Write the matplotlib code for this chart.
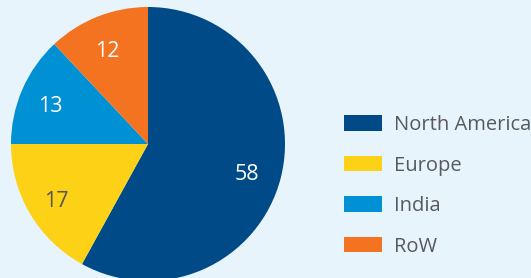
import matplotlib
matplotlib.use("Agg")
import matplotlib.pyplot as plt

regions = ["North America", "Europe", "India", "RoW"]
shares = [58, 17, 13, 12]
colors = ["#004b87", "#fcd116", "#0091d5", "#f47321"]
label_colors = ["white", "#555555", "white", "white"]

bg = "#e8f4fb"
W, H = 531, 278
fig = plt.figure(figsize=(W / 100, H / 100), dpi=100, facecolor=bg)

cx, cy, r = 148, 144, 137
ax = fig.add_axes([(cx - r) / W, (H - cy - r) / H, 2 * r / W, 2 * r / H])
ax.set_facecolor(bg)
wedges, texts, autotexts = ax.pie(
    shares, colors=colors, startangle=90, counterclock=False,
    autopct=lambda p: f"{p:.0f}", pctdistance=0.76, radius=1,
    wedgeprops=dict(linewidth=0),
    textprops=dict(fontsize=15.5, family="Open Sans"))
for t, c in zip(autotexts, label_colors):
    t.set_color(c)
    x, y = t.get_position()
    t.set_position((x - 0.015, y - 0.03))
ax.set_xlim(-1, 1)
ax.set_ylim(-1, 1)
ax.set_aspect("equal")
ax.axis("off")

fs = 14.5
fpx = fs * 100 / 72
leg = fig.legend(wedges, regions, loc="upper left",
                 bbox_to_anchor=(344 / W, 1 - 115 / H),
                 frameon=False, borderpad=0, borderaxespad=0,
                 handlelength=38 / fpx, handleheight=16 / fpx,
                 handletextpad=12 / fpx, labelspacing=1.02,
                 prop=dict(family="Open Sans", size=fs))
for t in leg.get_texts():
    t.set_color("#58595b")

fig.savefig("out.png", dpi=100, facecolor=bg)
